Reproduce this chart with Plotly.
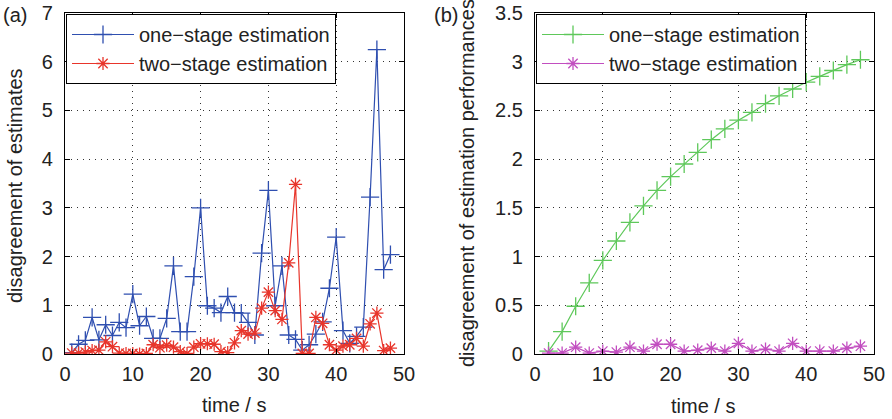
import plotly.graph_objects as go

# ---------------- data ----------------
time_a = [1, 2, 3, 4, 5, 6, 7, 8, 9, 10, 11, 12, 13, 14, 15, 16, 17, 18, 19, 20,
          21, 22, 23, 24, 25, 26, 27, 28, 29, 30, 31, 32, 33, 34, 35, 36, 37, 38, 39, 40,
          41, 42, 43, 44, 45, 46, 47, 48]
one_stage_a = [0.03, 0.20, 0.28, 0.75, 0.29, 0.60, 0.38, 0.65, 0.54, 1.23,
               0.58, 0.77, 0.32, 0.32, 0.73, 1.81, 0.46, 0.46, 1.59, 3.00,
               0.99, 0.94, 0.85, 1.18, 0.85, 0.84, 0.65, 0.39, 2.07, 3.36,
               0.99, 1.81, 0.39, 0.30, 0.08, 0.19, 0.41, 0.66, 1.35, 2.40,
               0.48, 0.22, 0.36, 0.55, 3.22, 6.25, 1.73, 2.04]
two_stage_a = [0.02, 0.02, 0.04, 0.07, 0.08, 0.25, 0.15, 0.02, 0.01, 0.01,
               0.00, 0.01, 0.19, 0.13, 0.18, 0.14, 0.05, 0.01, 0.14, 0.21,
               0.21, 0.20, 0.05, 0.03, 0.23, 0.48, 0.41, 0.43, 0.94, 1.27,
               0.89, 0.71, 1.87, 3.48, 0.01, 0.01, 0.75, 0.63, 0.19, 0.08,
               0.16, 0.19, 0.32, 0.16, 0.62, 0.84, 0.07, 0.12]

time_b = [2, 4, 6, 8, 10, 12, 14, 16, 18, 20, 22, 24, 26, 28, 30, 32, 34, 36, 38, 40,
          42, 44, 46, 48]
one_stage_b = [0.03, 0.23, 0.49, 0.73, 0.96, 1.16, 1.35, 1.52, 1.68, 1.82,
               1.95, 2.07, 2.20, 2.31, 2.40, 2.48, 2.57, 2.65, 2.72, 2.79,
               2.85, 2.91, 2.97, 3.02]
two_stage_b = [0.01, 0.01, 0.07, 0.01, 0.03, 0.02, 0.07, 0.03, 0.10, 0.10,
               0.03, 0.04, 0.06, 0.03, 0.11, 0.03, 0.05, 0.03, 0.11, 0.03,
               0.03, 0.03, 0.06, 0.08]

x_ticks = [0, 10, 20, 30, 40, 50]
y_ticks_a = [0, 1, 2, 3, 4, 5, 6, 7]
y_ticks_b = [0, 0.5, 1, 1.5, 2, 2.5, 3, 3.5]
series_names = ["one\u2212stage estimation", "two\u2212stage estimation"]

# ---------------- style ----------------
W, H = 892, 419
FONT = "Liberation Sans, Arial, sans-serif"
FS = 20
TXT = "#222222"
BLUE = "#2f4fb0"
RED = "#e8352b"
GREEN = "#5ec85a"
MAGENTA = "#c24ec0"

fig = go.Figure()
fig.add_trace(go.Scatter(x=time_a, y=one_stage_a, mode="lines+markers", name=series_names[0],
                         line=dict(color=BLUE, width=1.2),
                         marker=dict(symbol="cross-thin", size=13, line=dict(color=BLUE, width=1.3)),
                         xaxis="x", yaxis="y", legend="legend"))
fig.add_trace(go.Scatter(x=time_a, y=two_stage_a, mode="lines+markers", name=series_names[1],
                         line=dict(color=RED, width=1.2),
                         marker=dict(symbol="asterisk", size=11, line=dict(color=RED, width=1.3)),
                         xaxis="x", yaxis="y", legend="legend"))
fig.add_trace(go.Scatter(x=time_b, y=one_stage_b, mode="lines+markers", name=series_names[0],
                         line=dict(color=GREEN, width=1.2),
                         marker=dict(symbol="cross-thin", size=13, line=dict(color=GREEN, width=1.3)),
                         xaxis="x2", yaxis="y2", legend="legend2"))
fig.add_trace(go.Scatter(x=time_b, y=two_stage_b, mode="lines+markers", name=series_names[1],
                         line=dict(color=MAGENTA, width=1.2),
                         marker=dict(symbol="asterisk", size=11, line=dict(color=MAGENTA, width=1.3)),
                         xaxis="x2", yaxis="y2", legend="legend2"))

y_dom = [1 - 354 / H, 1 - 13 / H]
common_axis = dict(showline=True, linecolor="black", linewidth=1.2, mirror="ticks",
                   ticks="inside", ticklen=5, tickcolor="black", tickwidth=1,
                   showgrid=True, gridcolor="#333333", griddash="1px,5px", gridwidth=1,
                   zeroline=False, automargin=False,
                   tickfont=dict(family=FONT, size=FS, color=TXT))

legend_common = dict(xanchor="left", yanchor="top", y=1 - 14 / H,
                     bgcolor="white", bordercolor="black", borderwidth=1,
                     font=dict(family=FONT, size=FS, color=TXT),
                     itemwidth=62, tracegroupgap=0)

fig.update_layout(
    width=W, height=H,
    margin=dict(l=0, r=0, t=0, b=0),
    paper_bgcolor="white", plot_bgcolor="white",
    font=dict(family=FONT, size=FS, color=TXT),
    xaxis=dict(domain=[65 / W, 404 / W], range=[0, 50], tickvals=x_ticks,
               ticklabelstandoff=2, anchor="y", **common_axis),
    yaxis=dict(domain=y_dom, range=[0, 7], tickvals=y_ticks_a,
               ticklabelstandoff=7, anchor="x", **common_axis),
    xaxis2=dict(domain=[535 / W, 874 / W], range=[0, 50], tickvals=x_ticks,
                ticklabelstandoff=2, anchor="y2", **common_axis),
    yaxis2=dict(domain=y_dom, range=[0, 3.5], tickvals=y_ticks_b,
                ticklabelstandoff=7, anchor="x2", **common_axis),
    legend=dict(x=66 / W, **legend_common),
    legend2=dict(x=536 / W, **legend_common),
    showlegend=True,
)

annots = [
    dict(text="(a)", x=15 / W, y=1 - 15 / H),
    dict(text="(b)", x=446 / W, y=1 - 15 / H),
    dict(text="time / s", x=234 / W, y=1 - 405 / H),
    dict(text="time / s", x=703 / W, y=1 - 406 / H),
    dict(text="disagreement of estimates", x=15 / W, y=1 - 186 / H, textangle=-90),
    dict(text="disagreement of estimation performances", x=467 / W, y=1 - 183 / H, textangle=-90),
]
for a in annots:
    fig.add_annotation(xref="paper", yref="paper", xanchor="center", yanchor="middle",
                       showarrow=False, font=dict(family=FONT, size=FS, color=TXT), **a)

fig.write_html("out.html")
